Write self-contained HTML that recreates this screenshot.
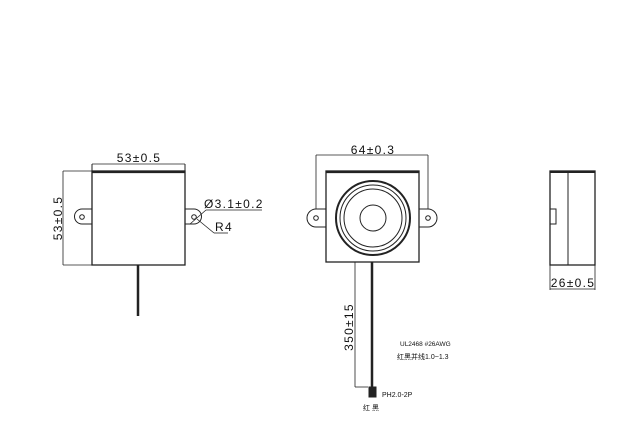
<!DOCTYPE html>
<html><head><style>body{margin:0;background:#fff}svg{display:block}text{font-family:"Liberation Sans","Noto Sans CJK SC",sans-serif;fill:#111}.d{font-size:12px;letter-spacing:1.3px}</style></head><body>
<svg width="630" height="431" viewBox="0 0 630 431" fill="none" stroke="#222" stroke-width="1">
<!-- Left view -->
<rect x="92" y="171" width="93" height="94" stroke-width="1.3"/>
<line x1="92" y1="172" x2="185" y2="172" stroke-width="2.2"/>
<line x1="92" y1="164" x2="185" y2="164" stroke-width="0.8"/>
<line x1="92" y1="164" x2="92" y2="171"/><line x1="185" y1="164" x2="185" y2="171"/>
<text x="139" y="162" class="d" text-anchor="middle" stroke="none">53±0.5</text>
<line x1="63" y1="171" x2="92" y2="171" stroke-width="0.8"/><line x1="63" y1="265" x2="92" y2="265" stroke-width="0.8"/>
<line x1="63" y1="171" x2="63" y2="265" stroke-width="0.8"/>
<text transform="translate(62,218) rotate(-90)" class="d" text-anchor="middle" stroke="none">53±0.5</text>
<path d="M92 209 H82 A7.5 7.5 0 0 0 82 224 H92"/><circle cx="82" cy="217" r="2.3"/>
<path d="M185 209 H194 A7.5 7.5 0 0 1 194 224 H185"/><circle cx="194" cy="217" r="2.3"/>
<line x1="190" y1="224" x2="206" y2="210" stroke-width="0.8"/><line x1="206" y1="210" x2="262" y2="210" stroke-width="0.8"/>
<line x1="197" y1="219" x2="214" y2="233" stroke-width="0.8"/><line x1="214" y1="233" x2="228" y2="233" stroke-width="0.8"/>
<text x="204" y="208" class="d" stroke="none">Ø3.1±0.2</text>
<text x="215" y="231" class="d" stroke="none">R4</text>
<line x1="138" y1="265" x2="138" y2="316" stroke-width="2.5"/>
<!-- Middle view -->
<rect x="326" y="171" width="93" height="91" stroke-width="1.3"/>
<line x1="326" y1="172" x2="419" y2="172" stroke-width="2.2"/>
<line x1="316" y1="155" x2="428" y2="155" stroke-width="0.8"/>
<line x1="316" y1="155" x2="316" y2="209" stroke-width="0.8"/><line x1="428" y1="155" x2="428" y2="209" stroke-width="0.8"/>
<text x="373" y="154" class="d" text-anchor="middle" stroke="none">64±0.3</text>
<path d="M326 209 H316 A8.5 8.5 0 0 0 316 227 H326"/><circle cx="316" cy="218" r="2.3"/>
<path d="M419 209 H428 A8.5 8.5 0 0 1 428 227 H419"/><circle cx="428" cy="218" r="2.3"/>
<circle cx="373" cy="218" r="37" stroke-width="2"/>
<circle cx="373" cy="218" r="33"/>
<circle cx="373" cy="218" r="29"/>
<circle cx="373" cy="218" r="13"/>
<line x1="355" y1="262" x2="355" y2="387" stroke-width="0.8"/>
<line x1="372" y1="262" x2="372" y2="387" stroke-width="2.5"/>
<line x1="355" y1="387" x2="368" y2="387" stroke-width="0.8"/>
<text transform="translate(353,327) rotate(-90)" class="d" text-anchor="middle" stroke="none">350±15</text>
<rect x="369" y="387" width="7" height="10" fill="#222"/>
<text x="382" y="397" font-size="7" stroke="none">PH2.0-2P</text>
<text x="363" y="410" font-size="7" stroke="none">红 黑</text>
<text x="400" y="346" font-size="6.5" stroke="none">UL2468 #26AWG</text>
<text x="397" y="359" font-size="7" stroke="none">红黑并线1.0~1.3</text>
<!-- Right view -->
<rect x="550" y="171" width="45" height="94" stroke-width="1.3"/>
<line x1="550" y1="172" x2="595" y2="172" stroke-width="2"/>
<line x1="568" y1="171" x2="568" y2="265"/>
<path d="M550 209 H556 V224 H550"/>
<line x1="550" y1="265" x2="550" y2="290" stroke-width="0.8"/><line x1="595" y1="265" x2="595" y2="290" stroke-width="0.8"/>
<line x1="550" y1="289" x2="595" y2="289" stroke-width="0.8"/>
<text x="573" y="287" class="d" text-anchor="middle" stroke="none">26±0.5</text>
</svg>
</body></html>
